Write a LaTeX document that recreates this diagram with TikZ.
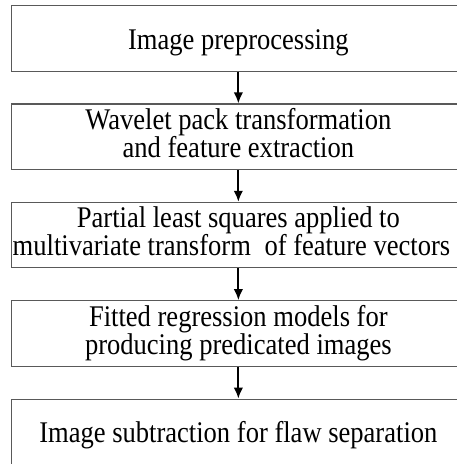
\documentclass[tikz,border=0pt]{standalone}
\usepackage{fontspec}
\usetikzlibrary{arrows.meta}
\newfontfamily\flowfont[FakeStretch=0.885]{Liberation Serif}
\begin{document}
\begin{tikzpicture}[x=1pt, y=-1pt,
  stage/.style={draw=black!65, line width=1.1pt, rectangle, inner sep=0pt,
    minimum width=453pt, minimum height=65.5pt},
  caption/.style={font=\flowfont\fontsize{30}{28}\selectfont, inner sep=0pt, anchor=base},
  flow/.style={line width=2pt, -{Latex[length=11pt, width=9.5pt]}}]
\useasboundingbox (0,0) rectangle (457,464);

% stage boxes
\node[stage] (b1) at (238.35, 38.30) {};
\node[stage] (b2) at (238.35, 136.70) {};
\node[stage] (b3) at (238.35, 235.10) {};
\node[stage] (b4) at (238.35, 333.50) {};
\node[stage] (b5) at (238.35, 431.90) {};

% captions
\node[caption] (t1) at (238.35, 49.30) {Image preprocessing};
\node[caption] (t2a) at (238.35, 129.55) {Wavelet pack transformation};
\node[caption] (t2b) at (238.35, 157.25) {and feature extraction};
\node[caption] (t3a) at (238.35, 227.95) {Partial least squares applied to};
\node[caption] (t3b) at (231.50, 255.65) {multivariate transform\hspace{7pt} of feature vectors};
\node[caption] (t4a) at (238.35, 326.35) {Fitted regression models for};
\node[caption] (t4b) at (238.35, 354.05) {producing predicated images};
\node[caption] (t5) at (238.35, 442.90) {Image subtraction for flaw separation};

% connectors
\draw[flow] (b1.south) -- (b2.north);
\draw[flow] (b2.south) -- (b3.north);
\draw[flow] (b3.south) -- (b4.north);
\draw[flow] (b4.south) -- (b5.north);
\end{tikzpicture}
\end{document}
